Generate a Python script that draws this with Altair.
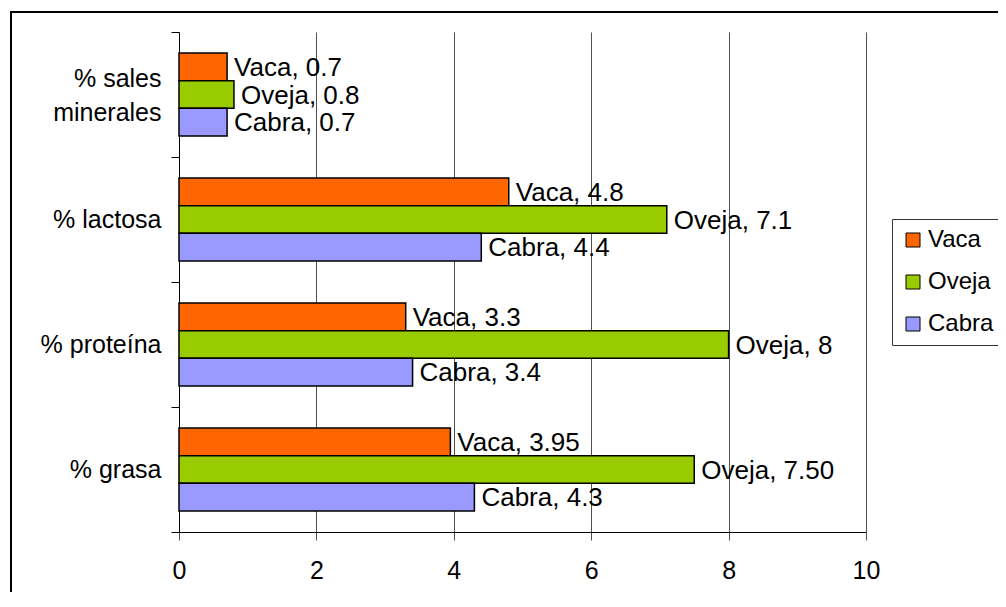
import altair as alt
import pandas as pd

categories = ["% sales minerales", "% lactosa", "% proteína", "% grasa"]
series = ["Vaca", "Oveja", "Cabra"]
vaca = [0.7, 4.8, 3.3, 3.95]
oveja = [0.8, 7.1, 8.0, 7.50]
cabra = [0.7, 4.4, 3.4, 4.3]
vaca_txt = ["0.7", "4.8", "3.3", "3.95"]
oveja_txt = ["0.8", "7.1", "8", "7.50"]
cabra_txt = ["0.7", "4.4", "3.4", "4.3"]
colors = ["#FF6600", "#99CC00", "#9999FF"]
x_ticks = [0, 2, 4, 6, 8, 10]

rows = []
for s, vals, txts in zip(series, [vaca, oveja, cabra], [vaca_txt, oveja_txt, cabra_txt]):
    for c, v, t in zip(categories, vals, txts):
        rows.append({"cat": c, "serie": s, "valor": v, "etiqueta": f"{s}, {t}"})
df = pd.DataFrame(rows)

FONT = "Liberation Sans"

y_enc = alt.Y(
    "cat:N",
    sort=categories,
    title=None,
    scale=alt.Scale(domain=categories, paddingInner=0, paddingOuter=0),
    axis=alt.Axis(
        tickBand="extent",
        tickSize=8,
        tickColor="black",
        domainColor="black",
        labelFontSize=25,
        labelFont=FONT,
        labelColor="black",
        labelPadding=10,
        labelLimit=300,
        labelLineHeight=34,
        labelOffset={"condition": {"test": "datum.value == '% sales minerales'", "value": -16}, "value": 0},
        labelExpr="datum.value == '% sales minerales' ? ['% sales', 'minerales'] : datum.value",
        grid=False,
    ),
)
y_off = alt.YOffset(
    "serie:N",
    sort=series,
    scale=alt.Scale(domain=series, paddingInner=0, paddingOuter=0.76),
)
x_enc = alt.X(
    "valor:Q",
    title=None,
    scale=alt.Scale(domain=[0, 10], nice=False),
    axis=alt.Axis(
        values=x_ticks,
        format="d",
        grid=True,
        gridColor="#505050",
        gridWidth=1,
        tickColor="#505050",
        tickSize=8,
        domainColor="black",
        labelFontSize=25,
        labelFont=FONT,
        labelColor="black",
        labelPadding=18,
        labelFlush=False,
    ),
)

bars = alt.Chart(df).mark_bar(stroke="black", strokeWidth=1.5, opacity=1).encode(
    x=x_enc,
    y=y_enc,
    yOffset=y_off,
    color=alt.Color(
        "serie:N",
        sort=series,
        scale=alt.Scale(domain=series, range=colors),
        legend=alt.Legend(
            title=None,
            orient="none",
            legendX=713,
            legendY=187,
            strokeColor="#333333",
            fillColor="white",
            padding=9,
            symbolType="square",
            symbolSize=196,
            symbolStrokeColor="black",
            symbolStrokeWidth=1,
            symbolOpacity=1,
            labelFontSize=24,
            labelFont=FONT,
            labelColor="black",
            labelOffset=3,
            rowPadding=18,
        ),
    ),
)

text = alt.Chart(df).mark_text(
    align="left", baseline="middle", dx=7, dy=1, fontSize=26, font=FONT, color="black"
).encode(
    x=alt.X("valor:Q"),
    y=alt.Y("cat:N", sort=categories),
    yOffset=alt.YOffset("serie:N", sort=series),
    text="etiqueta:N",
)

frame = alt.Chart(pd.DataFrame({"k": [0]})).mark_rect(
    fill="transparent", stroke="black", strokeWidth=2
).encode(
    x=alt.value(-168), x2=alt.value(2000), y=alt.value(-20), y2=alt.value(2000)
)

chart = (
    alt.layer(frame, bars, text)
    .properties(
        width=687,
        height=500,
        autosize=alt.AutoSizeParams(type="none"),
        padding={"left": 171, "top": 24, "right": 132, "bottom": 60},
        background="white",
    )
    .configure_view(strokeOpacity=0)
)

chart.save("out.html", embed_options={"renderer": "svg", "actions": False})
